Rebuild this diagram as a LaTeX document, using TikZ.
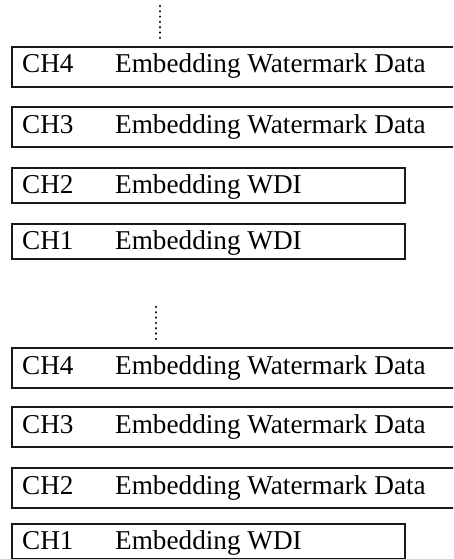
\documentclass[tikz,border=0pt]{standalone}
\usepackage{fontspec}
\setmainfont{Liberation Serif}
\begin{document}
\begin{tikzpicture}[x=1pt,y=-1pt,
  chbox/.style={draw=black!90,line width=1.7pt,rectangle,anchor=north west,inner sep=0pt},
  wide/.style={chbox,minimum width=452,minimum height=40},
  narrow/.style={chbox,minimum width=393,minimum height=35},
  lbl/.style={anchor=base west,inner sep=0pt,font=\fontsize{27.2}{30}\selectfont},
  dots/.style={line width=2.7pt,dash pattern=on 0.01pt off 5.3pt,line cap=round}]
\useasboundingbox (0,0) rectangle (453,559);
\clip (0,0) rectangle (453,559);
% upper group
\coordinate (ua) at (160,6);
\coordinate (ub) at (160,42);
\draw[dots] (ua) -- (ub);
\node[wide] (u4) at (11,46) {};
\node[wide] (u3) at (11,106) {};
\node[narrow] (u2) at (11,167) {};
\node[narrow] (u1) at (11,223) {};
\node[lbl] (u4c) at (22,73) {CH4};
\node[lbl] (u4t) at (115,73) {Embedding Watermark Data};
\node[lbl] (u3c) at (22,133) {CH3};
\node[lbl] (u3t) at (115,133) {Embedding Watermark Data};
\node[lbl] (u2c) at (22,193) {CH2};
\node[lbl] (u2t) at (115,193) {Embedding WDI};
\node[lbl] (u1c) at (22,249) {CH1};
\node[lbl] (u1t) at (115,249) {Embedding WDI};
% lower group
\coordinate (la) at (156,307);
\coordinate (lb) at (156,342);
\draw[dots] (la) -- (lb);
\node[wide] (l4) at (11,347) {};
\node[wide] (l3) at (11,406) {};
\node[wide] (l2) at (11,467) {};
\node[narrow] (l1) at (11,523) {};
\node[lbl] (l4c) at (22,374) {CH4};
\node[lbl] (l4t) at (115,374) {Embedding Watermark Data};
\node[lbl] (l3c) at (22,433) {CH3};
\node[lbl] (l3t) at (115,433) {Embedding Watermark Data};
\node[lbl] (l2c) at (22,494) {CH2};
\node[lbl] (l2t) at (115,494) {Embedding Watermark Data};
\node[lbl] (l1c) at (22,549) {CH1};
\node[lbl] (l1t) at (115,549) {Embedding WDI};
\end{tikzpicture}
\end{document}
